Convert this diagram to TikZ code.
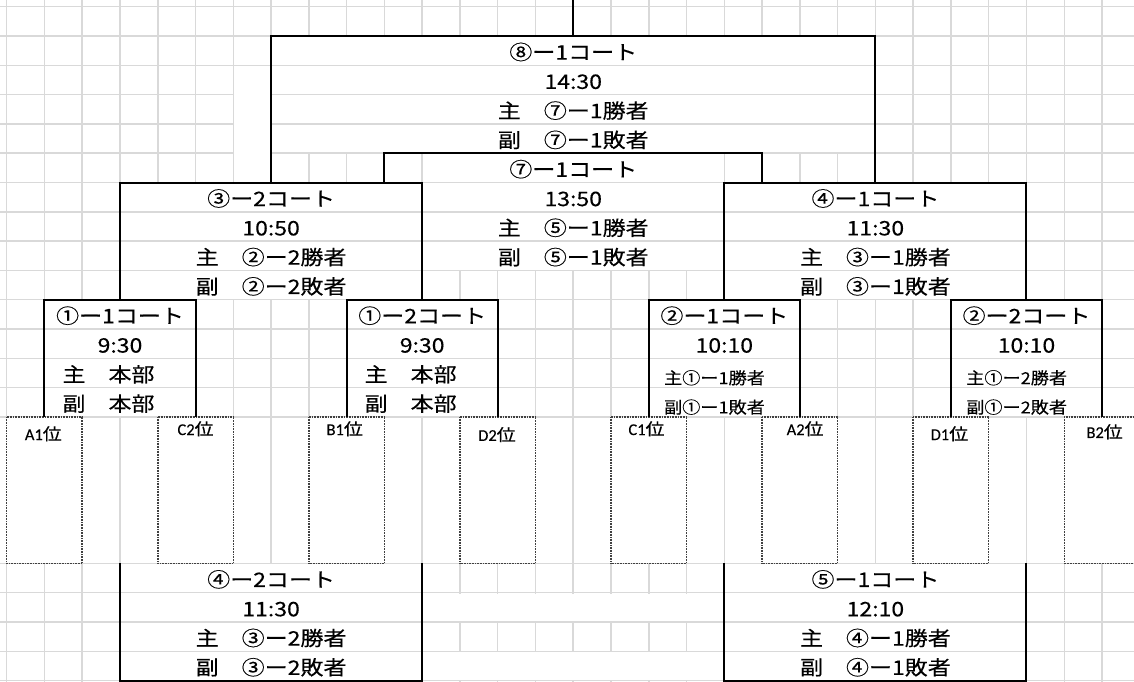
\documentclass[tikz,border=0pt]{standalone}
\usepackage{fontspec}
\setmainfont{Noto Sans CJK JP}[FakeStretch=1.15,FakeBold=0.35]
\newfontfamily\smallfont{Noto Sans CJK JP}[FakeStretch=1.1,FakeBold=0.3]
\newfontfamily\latinfont{Carlito}[FakeBold=0.2]
\usepackage{tikz}
\definecolor{g}{HTML}{D9D9D9}
\definecolor{d}{HTML}{404040}
\tikzset{
    grid/.style={draw=g,line width=1.5pt},
    bk/.style={draw=black,line width=2pt,line join=miter},
    team/.style={draw=d,fill=white,line width=1.5pt,dash pattern=on 1pt off 0.6pt},
    txt/.style={anchor=base,inner sep=0pt,font=\fontsize{20}{24}\selectfont},
    sm/.style={anchor=base west,inner sep=0pt,font=\smallfont\fontsize{16.5}{20}\selectfont},
    lbl/.style={anchor=base,inner sep=0pt,font=\fontsize{16.5}{18}\selectfont}
}
\newcommand{\court}[4]{
    \draw[bk] (#1,#4) -- (#1,#3) -- (#2,#3) -- (#2,#4);
}
\newcommand{\merged}[4]{
    \fill[white] (#1+0.02,#3) rectangle (#2-0.02,#4);
    \foreach \r in {#3,...,#4} {
        \draw[grid] (#1,\r) -- (#2,\r);
    }
}
\newcommand{\match}[5]{
    \node[txt] (#1-t) at (#2,#3+.805) {#4};
    \node[txt] (#1-h) at (#2,#3+1.805) {#5};
}
\newcommand{\refs}[5]{
    \node[txt] (#1-a) at (#2,#3+2.805) {#4};
    \node[txt] (#1-b) at (#2,#3+3.805) {#5};
}
\newcommand{\refsm}[5]{
    \node[sm] (#1-a) at (#2,#3+2.88) {#4};
    \node[sm] (#1-b) at (#2,#3+3.88) {#5};
}

\begin{document}
\begin{tikzpicture}[x=37.77pt,y=-29.3pt]
        \useasboundingbox (-0.1774,-0.2287) rectangle (29.847,23.048);

        \foreach \k in {0,...,29} \draw[grid] (\k,-0.3) -- (\k,23.1);
        \foreach \j in {0,...,23} \draw[grid] (-0.2,\j) -- (29.9,\j);

        \merged{7}{23}{1}{5};
        \merged{11}{19}{5}{9};
        \merged{3}{11}{6}{10};
        \merged{19}{27}{6}{10};
        \merged{1}{5}{10}{14};
        \merged{9}{13}{10}{14};
        \merged{17}{21}{10}{14};
        \merged{25}{29}{10}{14};
        \merged{3}{11}{19}{23};
        \merged{19}{27}{19}{23};
        \fill[white] (6.03,2.97) rectangle (6.98,5.97);
        \fill[white] (11.02,20.03) rectangle (18.98,20.97);
        \fill[white] (11.02,22.03) rectangle (18.98,22.97);

        \fill[white] (-0.3,14.03) rectangle (30,18.97);
        \foreach \k in {3,7,...,27} \draw[grid] (\k,14) -- (\k,19);
        \foreach \i in {0,...,7} \draw[team] (4*\i,14) rectangle (4*\i+2,19);

        \draw[bk] (15,-0.3) -- (15,1);
        \court{7}{23}{1}{6};
        \court{10}{20}{5}{6};
        \court{3}{11}{6}{10};
        \court{19}{27}{6}{10};
        \court{1}{5}{10}{14};
        \court{9}{13}{10}{14};
        \court{17}{21}{10}{14};
        \court{25}{29}{10}{14};
        \court{3}{11}{23}{19};
        \court{19}{27}{23}{19};

        \match{c81}{15}{1}{⑧ー1コート}{14:30};
        \refs{c81}{15}{1}{主　⑦ー1勝者}{副　⑦ー1敗者};
        \match{c71}{15}{5}{⑦ー1コート}{13:50};
        \refs{c71}{15}{5}{主　⑤ー1勝者}{副　⑤ー1敗者};
        \match{c32}{7}{6}{③ー2コート}{10:50};
        \refs{c32}{7}{6}{主　②ー2勝者}{副　②ー2敗者};
        \match{c41}{23}{6}{④ー1コート}{11:30};
        \refs{c41}{23}{6}{主　③ー1勝者}{副　③ー1敗者};
        \match{c11}{3}{10}{①ー1コート}{9:30};
        \refs{c11}{3}{10}{主　本部　}{副　本部　};
        \match{c12}{11}{10}{①ー2コート}{9:30};
        \refs{c12}{11}{10}{主　本部　}{副　本部　};
        \match{c21}{19}{10}{②ー1コート}{10:10};
        \refsm{c21}{17.4}{10}{主①ー1勝者}{副①ー1敗者};
        \match{c22}{27}{10}{②ー2コート}{10:10};
        \refsm{c22}{25.4}{10}{主①ー2勝者}{副①ー2敗者};
        \match{c42}{7}{19}{④ー2コート}{11:30};
        \refs{c42}{7}{19}{主　③ー2勝者}{副　③ー2敗者};
        \match{c51}{23}{19}{⑤ー1コート}{12:10};
        \refs{c51}{23}{19}{主　④ー1勝者}{副　④ー1敗者};

        \foreach \lab/\dx/\by [count=\i from 0] in {A1/-.03/14.79,C2/0/14.62,B1/-.05/14.62,D2/-.02/14.82,C1/-.06/14.62,A2/.14/14.62,D1/-.04/14.79,B2/.07/14.72}
            \node[lbl] (pos-\lab) at (4*\i+1+\dx,\by) {{\latinfont\lab}位};
\end{tikzpicture}
\end{document}
